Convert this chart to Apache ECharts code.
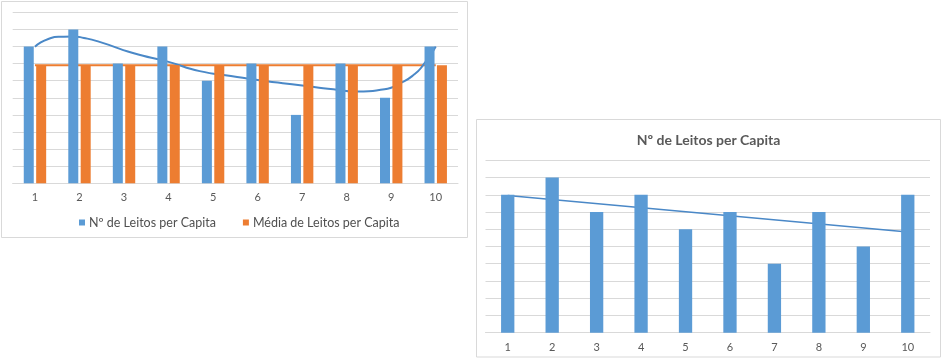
<!DOCTYPE html>
<html>
<head>
<meta charset="utf-8">
<script src="https://cdn.jsdelivr.net/npm/echarts@6/dist/echarts.min.js"></script>
<style>
html,body{margin:0;padding:0;background:#fff;}
#c{width:943px;height:359px;}
</style>
</head>
<body>
<div id="c"></div>
<script>
// ---- data ----
const categories = ['1','2','3','4','5','6','7','8','9','10'];
const leitos = [8, 9, 7, 8, 6, 7, 4, 7, 5, 8];
const media = [6.9, 6.9, 6.9, 6.9, 6.9, 6.9, 6.9, 6.9, 6.9, 6.9];
// polynomial trend curve (left chart): x in category units
const curveX = [1, 1.3, 1.55, 1.85, 2.1, 2.45, 3.2, 4, 4.7, 5.4, 6, 7, 7.7, 8.25, 8.85, 9.2, 9.5, 9.72, 10];
const curveY = [7.99, 8.44, 8.57, 8.58, 8.5, 8.27, 7.62, 7.1, 6.56, 6.28, 6.04, 5.72, 5.5, 5.37, 5.5, 5.85, 6.33, 6.92, 8.0];
// linear trend line (right chart)
const trendX = [1, 10];
const trendY = [7.96, 5.84];
const titleText = 'Nº de Leitos per Capita';
const nameBar = 'Nº de Leitos per Capita';
const nameMedia = 'Média de Leitos per Capita';

const FONT = 'Lato';
const TXT = '#595959';
const GRID = '#D9D9D9';
const BLUE = '#5B9BD5';
const ORANGE = '#ED7D31';

function pairs(xs, ys){ return xs.map((x,i)=>[x, ys[i]]); }

const chart = echarts.init(document.getElementById('c'), null, {renderer:'canvas'});
const yBase = {
  type:'value', min:0, max:10, interval:1,
  axisLabel:{show:false}, axisLine:{show:false}, axisTick:{show:false},
  splitLine:{lineStyle:{color:GRID, width:1}}
};
const xCat = {
  type:'category', data:categories,
  axisLine:{lineStyle:{color:GRID}}, axisTick:{show:false},
  axisLabel:{color:TXT, fontFamily:FONT, fontSize:11, margin:9}
};
chart.setOption({
  backgroundColor:'#fff',
  animation:false,
  graphic:[
    {type:'rect', shape:{x:1.5, y:1.5, width:466, height:236}, style:{fill:'none', stroke:GRID, lineWidth:1}, z:-10},
    {type:'rect', shape:{x:476.5, y:119.5, width:464, height:237.5}, style:{fill:'#fff', stroke:GRID, lineWidth:1}, z:-10},
    {type:'text', x:708.5, y:140, style:{text:titleText, fill:TXT, font:'bold 14px ' + FONT, textAlign:'center', textVerticalAlign:'middle'}}
  ],
  legend:{
    left:74, top:211, itemWidth:6, itemHeight:6, itemGap:27, icon:'rect',
    textStyle:{color:'#505050', fontFamily:FONT, fontSize:12.5, padding:[0,0,0,-1]},
    data:[nameBar, nameMedia]
  },
  grid:[
    {left:12.7, top:12.3, width:445.3, height:171},
    {left:485.5, top:160.3, width:444.5, height:172.4}
  ],
  xAxis:[
    Object.assign({gridIndex:0}, xCat),
    Object.assign({gridIndex:1}, xCat),
    {gridIndex:0, type:'value', min:0.5, max:10.5, show:false},
    {gridIndex:1, type:'value', min:0.5, max:10.5, show:false}
  ],
  yAxis:[
    Object.assign({gridIndex:0}, yBase),
    Object.assign({gridIndex:1}, yBase)
  ],
  series:[
    {name:nameBar, type:'bar', xAxisIndex:0, yAxisIndex:0, data:leitos, barWidth:10, barGap:'24%', itemStyle:{color:BLUE}, z:3},
    {name:nameMedia, type:'bar', xAxisIndex:0, yAxisIndex:0, data:media, barWidth:10, itemStyle:{color:ORANGE}, z:3},
    {name:'mediaLine', type:'line', xAxisIndex:0, yAxisIndex:0, data:media, symbol:'none', lineStyle:{color:ORANGE, width:2}, z:1},
    {name:'polyTrend', type:'line', xAxisIndex:2, yAxisIndex:0, data:pairs(curveX, curveY), smooth:0.6, symbol:'none', lineStyle:{color:'#4A88C7', width:2}, z:1},
    {name:nameBar, type:'bar', xAxisIndex:1, yAxisIndex:1, data:leitos, barWidth:13.3, itemStyle:{color:BLUE}, z:3},
    {name:'linTrend', type:'line', xAxisIndex:3, yAxisIndex:1, data:pairs(trendX, trendY), symbol:'none', lineStyle:{color:'#4A88C7', width:1.5}, z:1}
  ]
});
</script>
</body>
</html>
